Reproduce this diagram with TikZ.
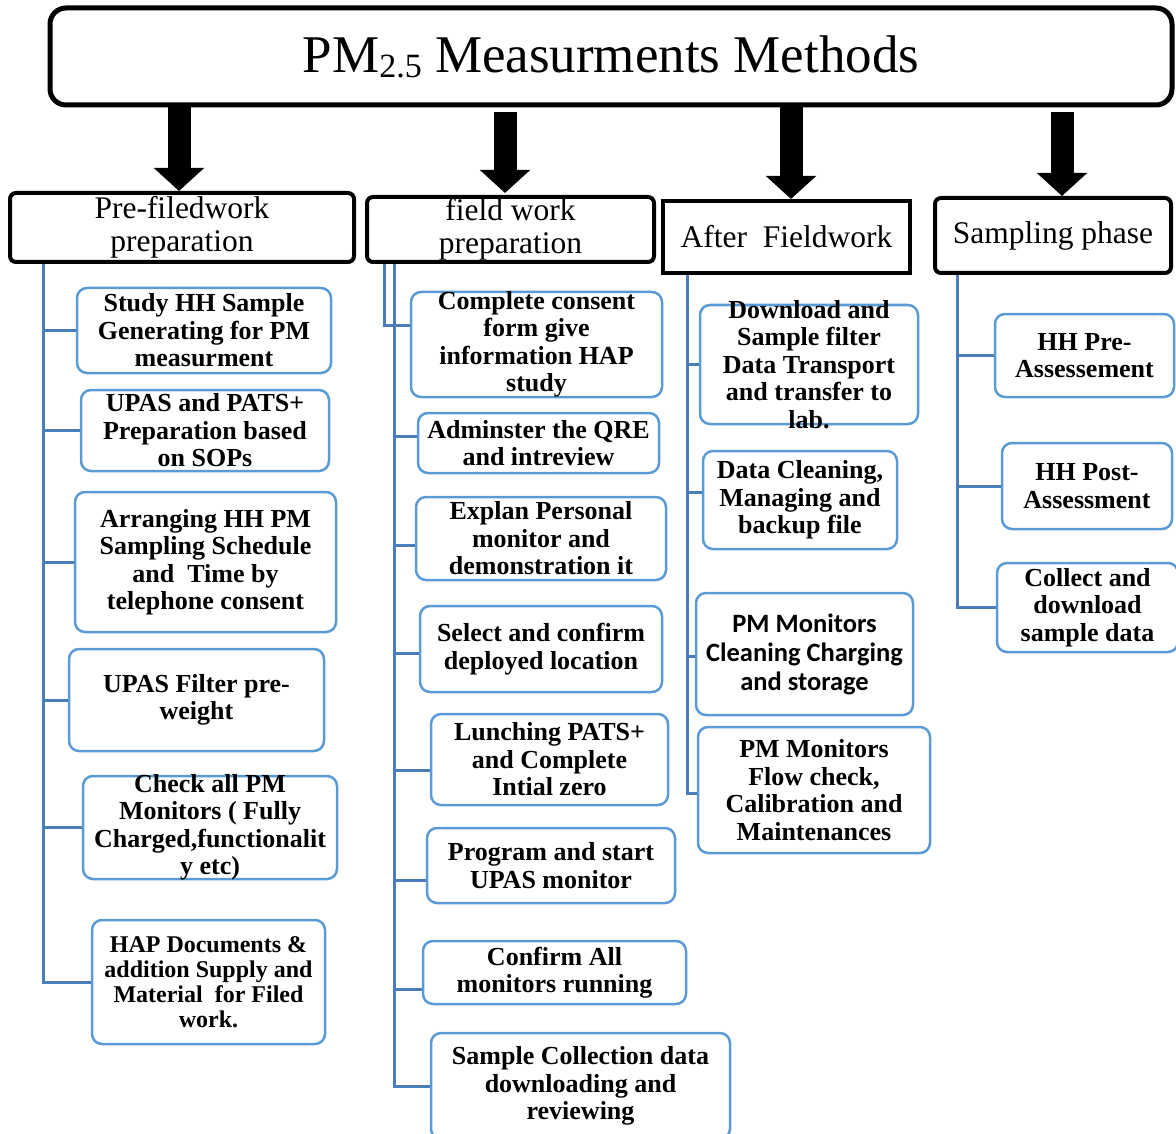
\documentclass[tikz,border=0pt]{standalone}
\usepackage{fontspec}
\setmainfont{Liberation Serif}
\newfontfamily\carlito{Carlito}
\usepackage{tikz}
\usetikzlibrary{shapes.geometric, arrows.meta, calc}
\definecolor{boxblue}{HTML}{5B9BD5}
\definecolor{linkblue}{HTML}{4A7EBB}
\tikzstyle{bigarrow} = [line width=23pt, -{Triangle[length=23pt, width=49pt]}]
\tikzstyle{titlebox} = [rectangle, rounded corners=16pt, draw=black, line width=5pt, font=\fontsize{53}{60}\selectfont]
\tikzstyle{phasebox} = [rectangle, rounded corners=6pt, draw=black, line width=4pt, align=center, inner ysep=-2pt, font=\fontsize{31.5}{33}\selectfont]
\tikzstyle{taskbox} = [rectangle, rounded corners=10pt, draw=boxblue, line width=2.5pt, align=center, inner ysep=-10pt, font=\bfseries\fontsize{26}{27.5}\selectfont]
\tikzstyle{linkline} = [draw=linkblue, line width=3pt]

\begin{document}
\begin{tikzpicture}[x=1pt, y=-1pt]
		\useasboundingbox (0,0) rectangle (1176,1134);
		\node (title) [titlebox, minimum width=1122pt, minimum height=97pt] at (611,56.5) {PM\raisebox{-5pt}{\fontsize{34}{34}\selectfont 2.5} Measurments Methods};
		\node (prefield) [phasebox, minimum width=344pt, minimum height=69pt] at (182,227.5) {Pre-filedwork\\preparation};
		\node (fieldprep) [phasebox, minimum width=287pt, minimum height=65pt] at (510.5,229.5) {field work\\preparation};
		\node (afterfw) [phasebox, rounded corners=0pt, minimum width=247pt, minimum height=72pt] at (786.5,237) {After\ \ Fieldwork};
		\node (sampling) [phasebox, minimum width=236pt, minimum height=75pt] at (1053,235.5) {Sampling phase};
		\draw [bigarrow] ($(prefield.north |- title.south)+(-3,0)$) -- ($(prefield.north)+(-3,0)$);
		\draw [bigarrow] ($(fieldprep.north |- title.south)+(-5.5,5)$) -- ($(fieldprep.north)+(-5.5,-2)$);
		\draw [bigarrow] ($(afterfw.north |- title.south)+(4.5,0)$) -- ($(afterfw.north)+(4.5,0)$);
		\draw [bigarrow] ($(sampling.north |- title.south)+(9,5)$) -- ($(sampling.north)+(9,0)$);

		\node (studyhh) [taskbox, minimum width=254pt, minimum height=85pt] at (204,330.5) {Study HH Sample\\Generating for PM\\measurment};
		\node (upasprep) [taskbox, minimum width=248pt, minimum height=81pt] at (205,430.5) {UPAS and PATS+\\Preparation based\\on SOPs};
		\node (arrange) [taskbox, minimum width=261pt, minimum height=140pt] at (205.5,562) {Arranging HH PM\\Sampling Schedule\\and\ \ Time by\\telephone consent};
		\node (filter) [taskbox, minimum width=255pt, minimum height=102pt] at (196.5,700) {UPAS Filter pre-\\weight};
		\node (checkpm) [taskbox, minimum width=254pt, minimum height=103pt] at (210,827.5) {Check all PM\\Monitors ( Fully\\Charged,functionalit\\y etc)};
		\node (hapdocs) [taskbox, font=\bfseries\fontsize{24}{25}\selectfont, minimum width=233pt, minimum height=124pt] at (208.5,982) {HAP Documents \&\\addition Supply and\\Material\ \ for Filed\\work.};
		\coordinate (trunkA) at ($(prefield.south west)+(35,0)$);
		\draw [linkline] (trunkA) |- (studyhh.west);
		\draw [linkline] (trunkA) |- (upasprep.west);
		\draw [linkline] (trunkA) |- (arrange.west);
		\draw [linkline] (trunkA) |- (filter.west);
		\draw [linkline] (trunkA) |- (checkpm.west);
		\draw [linkline] (trunkA) |- (hapdocs.west);

		\node (consent) [taskbox, minimum width=251pt, minimum height=105pt] at (536.5,344.5) {Complete consent\\form give\\information HAP\\study};
		\node (qre) [taskbox, minimum width=241pt, minimum height=60pt] at (538.5,443) {Adminster the QRE\\and intreview};
		\node (explan) [taskbox, minimum width=250pt, minimum height=83pt] at (541,538.5) {Explan Personal\\monitor and\\demonstration it};
		\node (select) [taskbox, minimum width=242pt, minimum height=86pt] at (541,649) {Select and confirm\\deployed location};
		\node (lunch) [taskbox, minimum width=237pt, minimum height=91pt] at (549.5,759.5) {Lunching PATS+\\and Complete\\Intial zero};
		\node (program) [taskbox, minimum width=248pt, minimum height=75pt] at (551,865.5) {Program and start\\UPAS monitor};
		\node (confirm) [taskbox, minimum width=263pt, minimum height=63pt] at (554.5,972.5) {Confirm All\\monitors running};
		\node (sample) [taskbox, minimum width=299pt, minimum height=106pt] at (580.5,1086) {Sample Collection data\\downloading and\\reviewing};
		\coordinate (spurB) at ($(fieldprep.south west)+(19,0)$);
		\coordinate (trunkB) at ($(fieldprep.south west)+(29,0)$);
		\draw [linkline] (spurB) |- ([yshift=19.5pt]consent.west);
		\draw [linkline] (trunkB) |- ([yshift=7pt]qre.west);
		\draw [linkline] (trunkB) |- ([yshift=-6.5pt]explan.west);
		\draw [linkline] (trunkB) |- ([yshift=-4pt]select.west);
		\draw [linkline] (trunkB) |- ([yshift=-10.5pt]lunch.west);
		\draw [linkline] (trunkB) |- ([yshift=-15pt]program.west);
		\draw [linkline] (trunkB) |- ([yshift=-16.5pt]confirm.west);
		\draw [linkline] (trunkB) |- (sample.west);

		\node (download) [taskbox, minimum width=218pt, minimum height=119pt] at (809,364.5) {Download and\\Sample filter\\Data Transport\\and transfer to\\lab.};
		\node (cleaning) [taskbox, minimum width=194pt, minimum height=98pt] at (800,500) {Data Cleaning,\\Managing and\\backup file};
		\node (charging) [taskbox, font=\carlito\bfseries\fontsize{26.5}{29}\selectfont, minimum width=217pt, minimum height=122pt] at (804.5,654) {PM Monitors\\Cleaning Charging\\and storage};
		\node (flow) [taskbox, minimum width=232pt, minimum height=126pt] at (814,790) {PM Monitors\\Flow check,\\Calibration and\\Maintenances};
		\coordinate (trunkC) at ($(afterfw.south west)+(26,0)$);
		\draw [linkline] (trunkC) |- (download.west);
		\draw [linkline] (trunkC) |- ([yshift=8pt]cleaning.west);
		\draw [linkline] (trunkC) |- ([yshift=-2pt]charging.west);
		\draw [linkline] (trunkC) |- ([yshift=-3pt]flow.west);

		\node (prehh) [taskbox, minimum width=179pt, minimum height=83pt] at (1084.5,355.5) {HH Pre-\\Assessement};
		\node (posthh) [taskbox, minimum width=170pt, minimum height=86pt] at (1087,486) {HH Post-\\Assessment};
		\node (collect) [taskbox, minimum width=181pt, minimum height=89pt] at (1087.5,607.5) {Collect and\\download\\sample data};
		\coordinate (trunkD) at ($(sampling.south west)+(24,0)$);
		\draw [linkline] (trunkD) |- (prehh.west);
		\draw [linkline] (trunkD) |- (posthh.west);
		\draw [linkline] (trunkD) |- (collect.west);
\end{tikzpicture}
\end{document}
